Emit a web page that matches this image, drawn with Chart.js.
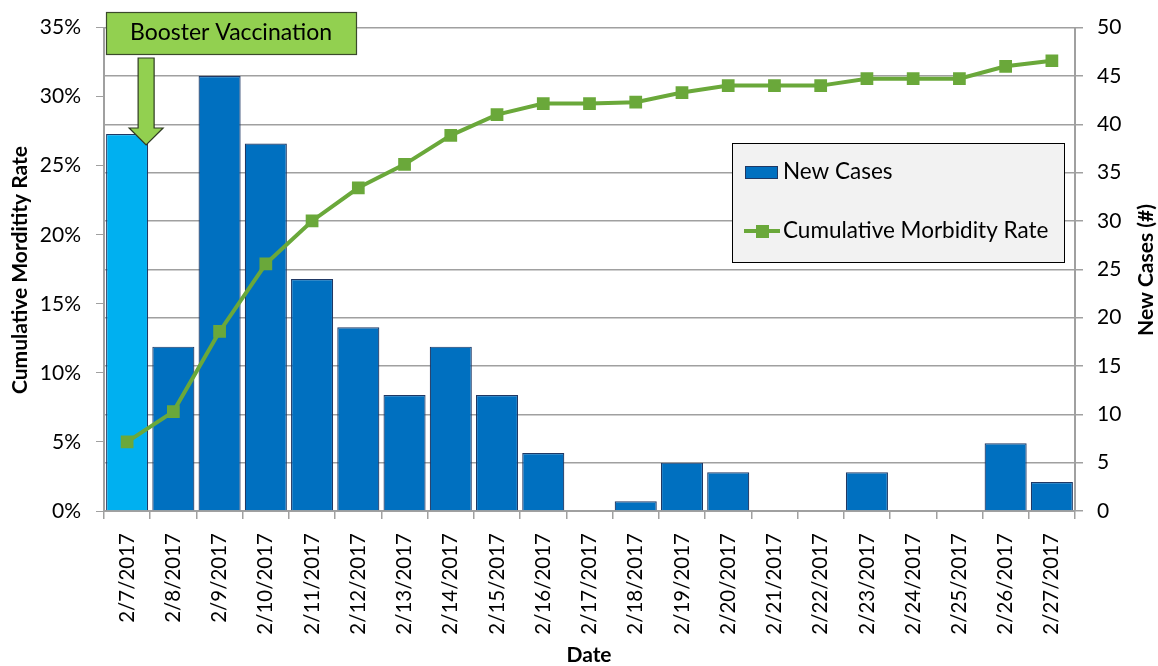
<!DOCTYPE html>
<html>
<head>
<meta charset="utf-8">
<style>
  html, body { margin: 0; padding: 0; background: #ffffff; }
  #wrap { width: 1158px; height: 666px; position: relative; }
</style>
<script src="https://cdn.jsdelivr.net/npm/chart.js@4/dist/chart.umd.min.js"></script>
</head>
<body>
<div id="wrap"><canvas id="chart" width="1158" height="666"></canvas></div>
<script>
// Outbreak days
const dates = ['2/7/2017','2/8/2017','2/9/2017','2/10/2017','2/11/2017','2/12/2017','2/13/2017',
  '2/14/2017','2/15/2017','2/16/2017','2/17/2017','2/18/2017','2/19/2017','2/20/2017',
  '2/21/2017','2/22/2017','2/23/2017','2/24/2017','2/25/2017','2/26/2017','2/27/2017'];

// New cases per day (right axis)
const newCases = [39, 17, 45, 38, 24, 19, 12, 17, 12, 6, 0, 1, 5, 4, 0, 0, 4, 0, 0, 7, 3];

// Cumulative morbidity rate, percent (left axis)
const cumulativeRate = [5.0, 7.2, 13.0, 17.9, 21.0, 23.4, 25.1, 27.2, 28.7, 29.5, 29.5,
  29.6, 30.3, 30.8, 30.8, 30.8, 31.3, 31.3, 31.3, 32.2, 32.6];

const FONT = 'Lato, "Open Sans", "Liberation Sans", sans-serif';
const BLUE = '#0070C0';
const LIGHT_BLUE = '#00B0F0';
const BAR_EDGE = '#1F3864';
const GREEN = '#6AA83A';
const CALLOUT = '#92D050';
const AXIS_GREY = '#A0A0A0';

const barColors = newCases.map((_, i) => i === 0 ? LIGHT_BLUE : BLUE);

// Axis titles, legend box and the booster callout
const extras = {
  id: 'extras',
  afterDraw(chart) {
    const ctx = chart.ctx;
    const area = chart.chartArea;
    const x = chart.scales.x;
    ctx.save();

    // axis titles
    ctx.fillStyle = '#000';
    ctx.font = 'bold 21px ' + FONT;
    ctx.textAlign = 'center';
    ctx.textBaseline = 'middle';
    ctx.save();
    ctx.translate(20, 270);
    ctx.rotate(-Math.PI / 2);
    ctx.fillText('Cumulative Morditity Rate', 0, 0);
    ctx.restore();
    ctx.save();
    ctx.translate(1146, 270);
    ctx.rotate(-Math.PI / 2);
    ctx.fillText('New Cases (#)', 0, 0);
    ctx.restore();
    ctx.fillText('Date', 589, 655);

    // legend
    const lx = 732, ly = 143, lw = 332, lh = 119;
    ctx.fillStyle = '#F2F2F2';
    ctx.fillRect(lx, ly, lw, lh);
    ctx.strokeStyle = '#000';
    ctx.lineWidth = 1;
    ctx.strokeRect(lx + 0.5, ly + 0.5, lw, lh);
    ctx.fillStyle = BLUE;
    ctx.fillRect(745, 166, 33, 13);
    ctx.strokeStyle = BAR_EDGE;
    ctx.strokeRect(745.5, 166.5, 32, 12);
    ctx.strokeStyle = GREEN;
    ctx.lineWidth = 4;
    ctx.beginPath();
    ctx.moveTo(744, 231);
    ctx.lineTo(780, 231);
    ctx.stroke();
    ctx.fillStyle = GREEN;
    ctx.fillRect(756, 225, 13, 13);
    ctx.fillStyle = '#000';
    ctx.font = '22.5px ' + FONT;
    ctx.textAlign = 'left';
    ctx.fillText('New Cases', 783, 172);
    ctx.fillText('Cumulative Morbidity Rate', 783, 231);

    // booster callout box
    ctx.fillStyle = CALLOUT;
    ctx.strokeStyle = '#3B4A2B';
    ctx.lineWidth = 1.2;
    ctx.fillRect(106, 12, 250, 42);
    ctx.strokeRect(106.5, 12.5, 250, 42);
    ctx.fillStyle = '#000';
    ctx.textAlign = 'center';
    ctx.font = '23px ' + FONT;
    ctx.fillText('Booster Vaccination', 231, 33);

    // arrow pointing at the first day
    const cx = x.getPixelForValue(0) + 19;
    ctx.beginPath();
    ctx.moveTo(cx - 8, 58);
    ctx.lineTo(cx + 8, 58);
    ctx.lineTo(cx + 8, 128);
    ctx.lineTo(cx + 17, 128);
    ctx.lineTo(cx, 145);
    ctx.lineTo(cx - 17, 128);
    ctx.lineTo(cx - 8, 128);
    ctx.closePath();
    ctx.fillStyle = CALLOUT;
    ctx.fill();
    ctx.strokeStyle = '#2E3A22';
    ctx.lineWidth = 1.2;
    ctx.stroke();

    ctx.restore();
  }
};

new Chart(document.getElementById('chart'), {
  data: {
    labels: dates,
    datasets: [
      {
        type: 'line',
        label: 'Cumulative Morbidity Rate',
        data: cumulativeRate,
        yAxisID: 'yL',
        borderColor: GREEN,
        backgroundColor: GREEN,
        borderWidth: 4,
        pointStyle: 'rect',
        pointRadius: 9,
        pointBorderWidth: 0,
        pointBackgroundColor: GREEN,
        tension: 0,
        order: 0
      },
      {
        type: 'bar',
        label: 'New Cases',
        data: newCases,
        yAxisID: 'yR',
        backgroundColor: barColors,
        borderColor: BAR_EDGE,
        borderWidth: 1.2,
        barPercentage: 0.91,
        categoryPercentage: 1,
        order: 1
      }
    ]
  },
  options: {
    responsive: false,
    animation: false,
    layout: { padding: { top: 25, left: 0, right: 0, bottom: 0 } },
    plugins: { legend: { display: false }, tooltip: { enabled: false } },
    scales: {
      x: {
        offset: true,
        grid: { display: true, drawOnChartArea: false, offset: true, color: AXIS_GREY, tickLength: 8, lineWidth: 1.5 },
        border: { color: AXIS_GREY, width: 2 },
        ticks: { color: '#000', font: { family: FONT, size: 20.5 }, minRotation: 90, maxRotation: 90, padding: 14, autoSkip: false },
        afterFit(s) { s.height = 155; }
      },
      yL: {
        position: 'left',
        min: 0, max: 35,
        grid: { drawOnChartArea: false, color: AXIS_GREY, tickLength: 8 },
        border: { color: AXIS_GREY, width: 2 },
        ticks: { stepSize: 5, color: '#000', font: { family: FONT, size: 21 }, padding: 15, callback: v => v + '%' },
        afterFit(s) { s.width = 104; }
      },
      yR: {
        position: 'right',
        min: 0, max: 50,
        grid: { drawOnChartArea: true, color: AXIS_GREY, tickLength: 8, lineWidth: 1.5 },
        border: { color: AXIS_GREY, width: 2 },
        ticks: { stepSize: 5, color: '#000', font: { family: FONT, size: 21 }, padding: 14 },
        afterFit(s) { s.width = 83; }
      }
    }
  },
  plugins: [extras]
});
</script>
</body>
</html>
